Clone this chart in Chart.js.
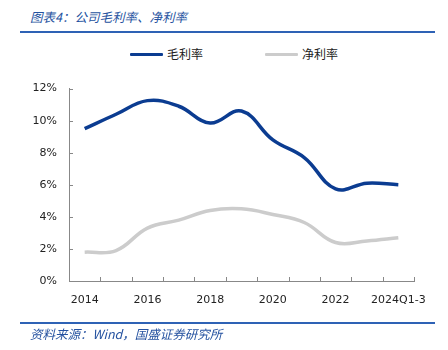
<!DOCTYPE html>
<html><head><meta charset="utf-8">
<script src="https://cdn.jsdelivr.net/npm/chart.js@4.4.1/dist/chart.umd.min.js"></script>
<style>
body{margin:0;width:448px;height:350px;position:relative;background:#fff;overflow:hidden;font-family:"Noto Sans CJK SC",sans-serif;}
.title{position:absolute;left:30px;top:8px;font-size:12.5px;font-style:italic;color:#2552A0;line-height:18px;white-space:nowrap;}
.rule{position:absolute;left:20px;width:415px;height:2px;background:#2E62B5;}
.legend{position:absolute;top:46px;left:0;width:448px;height:16px;font-size:12px;color:#222;}
.li{position:absolute;top:0;height:16px;line-height:16px;white-space:nowrap;}
.sw{display:inline-block;width:33px;height:3px;vertical-align:middle;margin-right:4px;position:relative;top:-1px;border-radius:1px;}
.src{position:absolute;left:30px;top:325px;font-size:12.5px;font-style:italic;color:#2552A0;line-height:18px;white-space:nowrap;}
#wrap{position:absolute;left:0;top:70px;width:448px;height:280px;}
</style></head>
<body>
<div class="title">图表4：公司毛利率、净利率</div>
<div class="rule" style="top:31px"></div>
<div class="legend">
  <div class="li" style="left:130px"><span class="sw" id="sw0"></span><span id="lt0"></span></div>
  <div class="li" style="left:265px"><span class="sw" id="sw1"></span><span id="lt1"></span></div>
</div>
<div id="wrap"><canvas id="c" width="448" height="280"></canvas></div>
<div class="rule" style="top:322px"></div>
<div class="src">资料来源：Wind，国盛证券研究所</div>
<script>
const categories = ['2014','2015','2016','2017','2018','2019','2020','2021','2022','2023','2024Q1-3'];
const grossMargin = [9.5, 10.4, 11.25, 10.9, 9.85, 10.6, 8.8, 7.7, 5.75, 6.1, 6.0];
const netMargin = [1.8, 1.9, 3.3, 3.8, 4.4, 4.5, 4.15, 3.65, 2.4, 2.5, 2.7];
const seriesNames = ['毛利率', '净利率'];
const seriesColors = ['#0B3C91', '#CCCCCC'];
const yTicks = [0, 2, 4, 6, 8, 10, 12];

seriesNames.forEach((n,i)=>{
  document.getElementById('lt'+i).textContent = n;
  document.getElementById('sw'+i).style.background = seriesColors[i];
});

const tickFont = {family:'"DejaVu Sans", sans-serif', size:11};
const innerTicks = {
  id:'innerTicks',
  afterDraw(chart){
    const {ctx, scales:{x,y}, chartArea:a} = chart;
    ctx.save();
    ctx.strokeStyle = '#888';
    ctx.lineWidth = 1;
    const n = categories.length;
    const step = x.getPixelForValue(1) - x.getPixelForValue(0);
    for(let i=0;i<=n;i++){
      const px = Math.round(x.getPixelForValue(0) - step/2 + i*step) + 0.5;
      ctx.beginPath(); ctx.moveTo(px, a.bottom); ctx.lineTo(px, a.bottom-4); ctx.stroke();
    }
    y.ticks.forEach(t=>{
      const py = Math.round(y.getPixelForValue(t.value)) + 0.5;
      ctx.beginPath(); ctx.moveTo(a.left, py); ctx.lineTo(a.left+4, py); ctx.stroke();
    });
    ctx.restore();
  }
};

new Chart(document.getElementById('c'), {
  type:'line',
  data:{
    labels: categories,
    datasets:[
      {label:seriesNames[0], data:grossMargin, borderColor:seriesColors[0], backgroundColor:seriesColors[0], borderWidth:3.5, pointRadius:0, tension:0.4, fill:false},
      {label:seriesNames[1], data:netMargin, borderColor:seriesColors[1], backgroundColor:seriesColors[1], borderWidth:3.5, pointRadius:0, tension:0.4, fill:false}
    ]
  },
  options:{
    responsive:false,
    animation:false,
    layout:{padding:{left:20,right:34,top:15,bottom:39}},
    plugins:{legend:{display:false}, tooltip:{enabled:false}},
    scales:{
      x:{
        type:'category', offset:true,
        grid:{offset:true, drawOnChartArea:false, drawTicks:false},
        border:{color:'#888', width:1},
        ticks:{autoSkip:false, maxRotation:0, padding:13, font:tickFont, color:'#222',
          callback:(v,i)=> i%2===0 ? categories[i] : ''},
        afterFit:s=>{s.height=30;}
      },
      y:{
        min:yTicks[0], max:yTicks[yTicks.length-1],
        grid:{drawOnChartArea:false, drawTicks:false},
        border:{color:'#888', width:1},
        ticks:{stepSize:yTicks[1]-yTicks[0], padding:12, font:tickFont, color:'#222', callback:v=>v+'%'},
        afterFit:s=>{s.width=49;}
      }
    }
  },
  plugins:[innerTicks]
});
</script>
</body></html>
